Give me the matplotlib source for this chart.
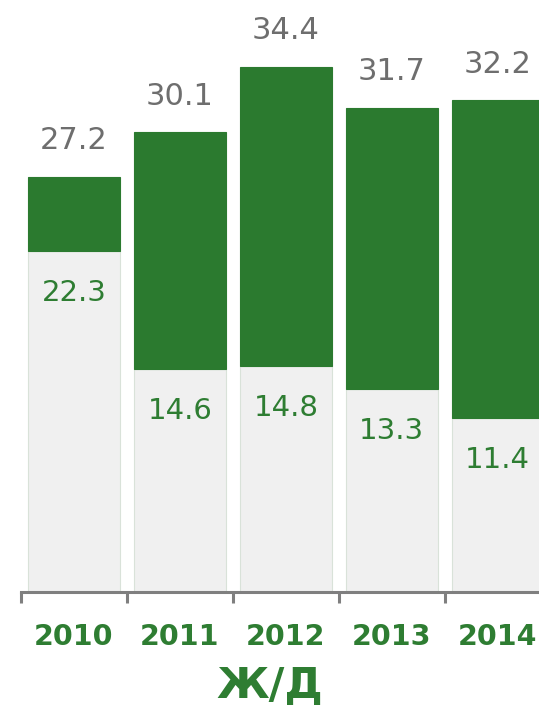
import matplotlib
matplotlib.use("Agg")
import matplotlib.pyplot as plt
import numpy as np

years = ["2010", "2011", "2012", "2013", "2014"]
totals = [27.2, 30.1, 34.4, 31.7, 32.2]
lower = [22.3, 14.6, 14.8, 13.3, 11.4]
xlabel = "Ж/Д"

GREEN = "#2b7a2f"
TEXT_GREEN = "#2e7d32"
GREY_TXT = "#6e6e6e"
LIGHT = "#f0f0f0"
AXIS = "#7f7f7f"

plt.rcParams['font.family'] = ['DejaVu Sans']

W, H = 539, 708
fig = plt.figure(figsize=(W / 100, H / 100), dpi=100)
ax = fig.add_axes([21 / W, 116 / H, 1 - 21 / W, 592 / H])

x = np.arange(len(years))
upper = [t - l for t, l in zip(totals, lower)]
width = 0.87
ax.bar(x, lower, width=width, color=LIGHT, edgecolor="#d9e2d9", linewidth=0.8, zorder=2)
ax.bar(x, upper, bottom=lower, width=width, color=GREEN, edgecolor=GREEN, linewidth=0.8, zorder=2)

for xi, t, l in zip(x, totals, lower):
    ax.annotate(f"{t:.1f}", (xi, t), xytext=(0, 20), textcoords="offset points",
                ha="center", va="baseline", fontsize=22, color=GREY_TXT)
    ax.annotate(f"{l:.1f}", (xi, l), xytext=(0, -36), textcoords="offset points",
                ha="center", va="baseline", fontsize=21, color=TEXT_GREEN)

ax.set_xlim(-0.5, 4.39)
ax.set_ylim(0, 592 / 15.27)

for s in ["left", "right", "top"]:
    ax.spines[s].set_visible(False)
ax.spines["bottom"].set_color(AXIS)
ax.spines["bottom"].set_linewidth(2.2)
ax.spines["bottom"].set_zorder(3)

ax.set_yticks([])
ax.set_xticks(x)
ax.set_xticklabels(years, fontsize=20.5, fontweight="bold", color=TEXT_GREEN)
ax.tick_params(axis="x", which="major", length=0, pad=22)
ax.set_xticks(np.arange(-0.5, 4.5, 1.0), minor=True)
ax.tick_params(axis="x", which="minor", length=8, width=2.2, color=AXIS, direction="out")

ax.set_xlabel(xlabel, fontsize=31, fontweight="bold", color=TEXT_GREEN)
ax.xaxis.set_label_coords((270 - 21) / (W - 21), -(686 - 592) / 592)
ax.xaxis.label.set_va("center")

fig.savefig("out.png", dpi=100)
